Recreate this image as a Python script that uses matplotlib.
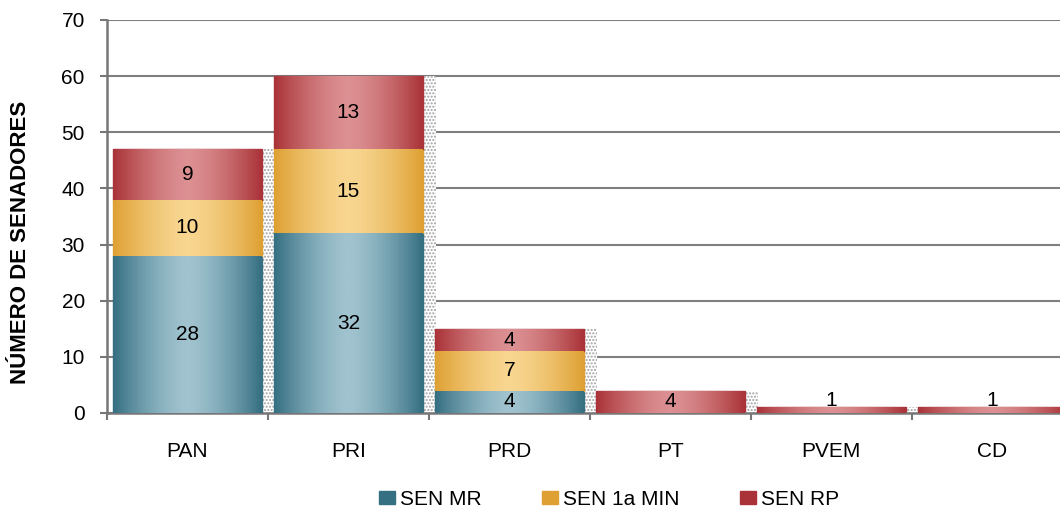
import matplotlib.pyplot as plt
import numpy as np
from matplotlib.colors import LinearSegmentedColormap

plt.rcParams['font.family'] = ['Liberation Sans', 'DejaVu Sans']

# datos
partidos = ['PAN', 'PRI', 'PRD', 'PT', 'PVEM', 'CD']
sen_mr = [28, 32, 4, 0, 0, 0]
sen_min = [10, 15, 7, 0, 0, 0]
sen_rp = [9, 13, 4, 4, 1, 1]
series = ['SEN MR', 'SEN 1a MIN', 'SEN RP']

# colores (oscuro, claro) de cada serie
colores = [('#356f82', '#a0c3cf'), ('#dea033', '#f8d690'), ('#a93338', '#dc9092')]

fig = plt.figure(figsize=(10.6, 5.14), dpi=100)
ax = fig.add_axes([0.101, 0.1965, 0.911, 0.7646])

x = np.arange(len(partidos))
ancho = 0.925
valores = [sen_mr, sen_min, sen_rp]
base = np.zeros(len(partidos))

# sombra punteada
total = np.array(sen_mr) + np.array(sen_min) + np.array(sen_rp)
ax.bar(x + 0.08, total, ancho, bottom=0, color='white', edgecolor='#a0a0a0',
       hatch='.....', linewidth=0, zorder=1)

grad = np.abs(np.linspace(-1, 1, 200))[None, :] ** 1.5
for i, vals in enumerate(valores):
    vals = np.array(vals)
    cmap = LinearSegmentedColormap.from_list('c%d' % i, [colores[i][1], colores[i][0]])
    barras = ax.bar(x, vals, ancho, bottom=base, color=colores[i][0],
                    edgecolor=colores[i][0], linewidth=1, zorder=2, label=series[i])
    for b, v in zip(barras, vals):
        if v == 0:
            continue
        x0, y0 = b.get_x(), b.get_y()
        im = ax.imshow(grad, cmap=cmap, aspect='auto', zorder=3,
                       extent=[x0, x0 + b.get_width(), y0, y0 + b.get_height()])
        im.set_clip_path(b)
        yc = y0 + v / 2
        if v < 4:
            yc = max(yc, 2.3)
        ax.text(x0 + b.get_width() / 2, yc, str(v), ha='center', va='center',
                fontsize=15, zorder=5)
    base = base + vals

ax.set_xlim(-0.5, len(partidos) - 0.5)
ax.set_ylim(0, 70)
ax.set_yticks(range(0, 71, 10))
ax.set_xticks(x)
ax.set_xticklabels(partidos)
ax.set_xticks(np.arange(-0.5, len(partidos), 1), minor=True)
ax.tick_params(axis='x', which='major', length=0, pad=21, labelsize=15)
ax.tick_params(axis='x', which='minor', length=5, width=1.5, color='#777777')
ax.tick_params(axis='y', length=5, width=1.5, color='#777777', labelsize=15, pad=11)
ax.grid(axis='y', color='#7f7f7f', linewidth=1.5, zorder=0)
ax.set_axisbelow(True)
for s in ['top', 'right']:
    ax.spines[s].set_visible(False)
for s in ['left', 'bottom']:
    ax.spines[s].set_color('#777777')
    ax.spines[s].set_linewidth(1.8)
fig.text(21 / 1060, 1 - 242 / 514, 'NÚMERO DE SENADORES', rotation=90,
         ha='center', va='center', fontsize=16, fontweight='bold')

ax.legend(loc='center', bbox_to_anchor=(0.52, -0.22), ncol=3, frameon=False,
          fontsize=15, handlelength=0.75, handleheight=0.6, handletextpad=0.25,
          columnspacing=2.9)

fig.savefig('out.png', dpi=100)
